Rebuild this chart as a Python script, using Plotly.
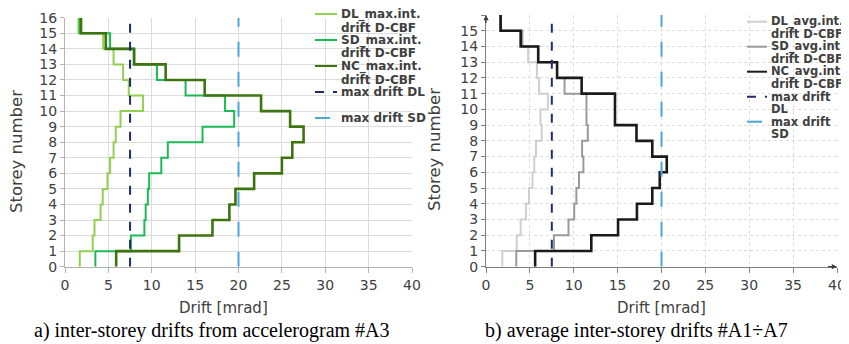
import plotly.graph_objects as go

# ---------------- data ----------------
storeys = list(range(0, 17))  # storey levels 0..16

# (a) max inter-storey drifts from accelerogram #A3 [mrad], storey 1..16
dl_max = [1.7, 3.2, 3.4, 4.1, 4.35, 4.9, 5.2, 5.6, 5.85, 6.4, 9.0, 7.35, 6.7, 5.6, 4.4, 1.55]
sd_max = [3.5, 7.6, 9.15, 9.3, 9.55, 9.7, 11.1, 11.85, 15.85, 19.5, 18.45, 13.9, 10.6, 8.0, 5.2, 1.7]
nc_max = [5.9, 13.15, 17.0, 18.95, 19.65, 21.8, 25.0, 26.2, 27.5, 25.95, 22.6, 16.1, 11.6, 7.95, 4.7, 1.85]

# (b) average inter-storey drifts #A1÷A7 [mrad]
dl_avg = [1.86, 3.5, 3.95, 4.55, 4.9, 5.3, 5.5, 5.7, 6.35, 6.2, 7.05, 6.05, 5.8, 4.8, 4.05, 1.6]
sd_avg = [3.45, 7.75, 9.4, 10.05, 10.3, 10.6, 11.1, 10.95, 11.6, 11.45, 11.45, 8.95, 8.1, 5.95, 4.15, 1.65]
nc_avg = [5.6, 12.0, 15.05, 17.2, 18.95, 19.8, 20.6, 18.95, 17.15, 14.7, 14.7, 10.9, 8.1, 5.95, 3.95, 1.67]

max_drift_dl = 7.5
max_drift_sd = 20.0

x_ticks = [0, 5, 10, 15, 20, 25, 30, 35, 40]
y_ticks = list(range(0, 17))

names_a = [["DL_max.int.", "drift D-CBF"], ["SD_max.int.", "drift D-CBF"], ["NC_max.int.", "drift D-CBF"],
           ["max drift DL"], ["max drift SD"]]
names_b = [["DL_avg.int.", "drift D-CBF"], ["SD_avg.int.", "drift D-CBF"], ["NC_avg.int.", "drift D-CBF"],
           ["max drift", "DL"], ["max drift", "SD"]]
caption_a = "a) inter-storey drifts from accelerogram #A3"
caption_b = "b) average inter-storey drifts #A1÷A7"

# ---------------- layout helpers (screen px -> paper fractions) ----------------
OFF = 8            # page body margin
WF, HF = 841, 336  # figure size so that figure + margin fills the 849x344 window


def sx(x):
    return (x - OFF) / WF


def sy(y):
    return 1 - (y - OFF) / HF


col_a = ["#92d050", "#1db954", "#3e7410"]
col_b = ["#cfcfcf", "#9a9a9a", "#1a1a1a"]
wid = [2, 2, 2.6]
col_dl = "#1f2b6e"
col_sd = "#4aa5da"
txt = "#404040"


def steps(vals):
    return vals + [vals[-1]]


fig = go.Figure()

styles_a = [dict(color=c, width=w) for c, w in zip(col_a, wid)] + \
           [dict(color=col_dl, width=2, dash="dash"), dict(color=col_sd, width=2, dash="longdash")]
styles_b = [dict(color=c, width=w) for c, w in zip(col_b, wid)] + \
           [dict(color=col_dl, width=2, dash="dash"), dict(color=col_sd, width=2, dash="longdash")]

for vals, nm, st in zip([dl_max, sd_max, nc_max], names_a[:3], styles_a[:3]):
    fig.add_trace(go.Scatter(x=steps(vals), y=storeys, mode="lines", line=dict(st, shape="vh"),
                             name=" ".join(nm), xaxis="x", yaxis="y", showlegend=False))
fig.add_trace(go.Scatter(x=[max_drift_dl, max_drift_dl], y=[0, 16], mode="lines", line=styles_a[3],
                         name=" ".join(names_a[3]), xaxis="x", yaxis="y", showlegend=False))
fig.add_trace(go.Scatter(x=[max_drift_sd, max_drift_sd], y=[0, 16], mode="lines", line=styles_a[4],
                         name=" ".join(names_a[4]), xaxis="x", yaxis="y", showlegend=False))

for vals, nm, st in zip([dl_avg, sd_avg, nc_avg], names_b[:3], styles_b[:3]):
    fig.add_trace(go.Scatter(x=steps(vals), y=storeys, mode="lines", line=dict(st, shape="vh"),
                             name=" ".join(nm), xaxis="x2", yaxis="y2", showlegend=False))
fig.add_trace(go.Scatter(x=[max_drift_dl, max_drift_dl], y=[0, 16], mode="lines", line=styles_b[3],
                         name=" ".join(names_b[3]), xaxis="x2", yaxis="y2", showlegend=False))
fig.add_trace(go.Scatter(x=[max_drift_sd, max_drift_sd], y=[0, 16], mode="lines", line=styles_b[4],
                         name=" ".join(names_b[4]), xaxis="x2", yaxis="y2", showlegend=False))

tickfont = dict(family="DejaVu Sans", size=14, color=txt)


def xax(domain, anchor, grid_dash, linecol):
    return dict(domain=domain, anchor=anchor, range=[0, 40], tickvals=x_ticks, showgrid=True,
                gridcolor="#dcdcdc", griddash=grid_dash, gridwidth=1, showline=True, linecolor=linecol,
                linewidth=1.3, ticks="outside", ticklen=5, tickcolor=linecol, tickfont=tickfont,
                zeroline=False, fixedrange=True, automargin=False)


def yax(domain, anchor, grid_dash, linecol):
    return dict(domain=domain, anchor=anchor, range=[0, 16], tickvals=y_ticks, showgrid=True,
                gridcolor="#dcdcdc", griddash=grid_dash, gridwidth=1, showline=True, linecolor=linecol,
                linewidth=1.3, ticks="outside", ticklen=4, tickcolor=linecol, tickfont=tickfont,
                zeroline=False, fixedrange=True, automargin=False)


fig.update_layout(
    width=WF, height=HF,
    margin=dict(l=0, r=0, t=0, b=0),
    paper_bgcolor="white", plot_bgcolor="white",
    xaxis=xax([sx(65), sx(412)], "y", "solid", "#b3b3b3"),
    yaxis=yax([sy(266.7), sy(17.7)], "x", "solid", "#b3b3b3"),
    xaxis2=xax([sx(486), sx(837)], "y2", "dot", "#7f7f7f"),
    yaxis2=yax([sy(266.7), sy(15)], "x2", "dot", "#7f7f7f"),
    showlegend=False,
)

ann = []
shapes = []


def center_text(text, x, y, size, family="DejaVu Sans", color=txt, angle=0):
    return dict(text=text, x=sx(x), y=sy(y), xref="paper", yref="paper", showarrow=False,
                xanchor="center", yanchor="middle", textangle=angle,
                font=dict(family=family, size=size, color=color))


ann.append(center_text("Storey number", 16, 152, 16.5, angle=-90))
ann.append(center_text("Storey number", 434, 150, 16.5, angle=-90))
ann.append(center_text("Drift [mrad]", 223, 308, 15))
ann.append(center_text("Drift [mrad]", 661, 308, 15))
ann.append(center_text(caption_a, 212, 330, 20, family="Liberation Serif", color="black"))
ann.append(center_text(caption_b, 636, 330, 20, family="Liberation Serif", color="black"))

# legends drawn as text + line samples (tight line spacing as in the reference)
legend_specs = [
    (names_a, styles_a, 315, 337, 340, 14.0, 26.0, 13.5, 12),
    (names_b, styles_b, 747, 767, 770, 21.7, 25.0, 12.5, 11.5),
]
for names, styles, x0, x1, xt, y0, dy, dl, fs in legend_specs:
    for i, (nm, st) in enumerate(zip(names, styles)):
        yy = y0 + i * dy
        shapes.append(dict(type="line", xref="paper", yref="paper", x0=sx(x0), x1=sx(x1),
                           y0=sy(yy), y1=sy(yy),
                           line=dict(color=st["color"], width=2, dash=st.get("dash", "solid"))))
        for j, line in enumerate(nm):
            ann.append(dict(text="<b>" + line + "</b>", x=sx(xt), y=sy(yy + j * dl),
                            xref="paper", yref="paper", showarrow=False, xanchor="left",
                            yanchor="middle", borderpad=0,
                            font=dict(family="DejaVu Sans", size=fs, color=txt)))

# axis arrows on the right-hand chart
ann.append(dict(x=0, y=16, xref="x2", yref="y2", ax=0, ay=15.4, axref="x2", ayref="y2", showarrow=True,
                arrowhead=2, arrowsize=0.8, arrowwidth=1.3, arrowcolor="#404040", text=""))
ann.append(dict(x=40, y=0, xref="x2", yref="y2", ax=38.8, ay=0, axref="x2", ayref="y2", showarrow=True,
                arrowhead=2, arrowsize=0.8, arrowwidth=1.3, arrowcolor="#404040", text=""))
fig.update_layout(annotations=ann, shapes=shapes)

fig.write_html("out.html")
